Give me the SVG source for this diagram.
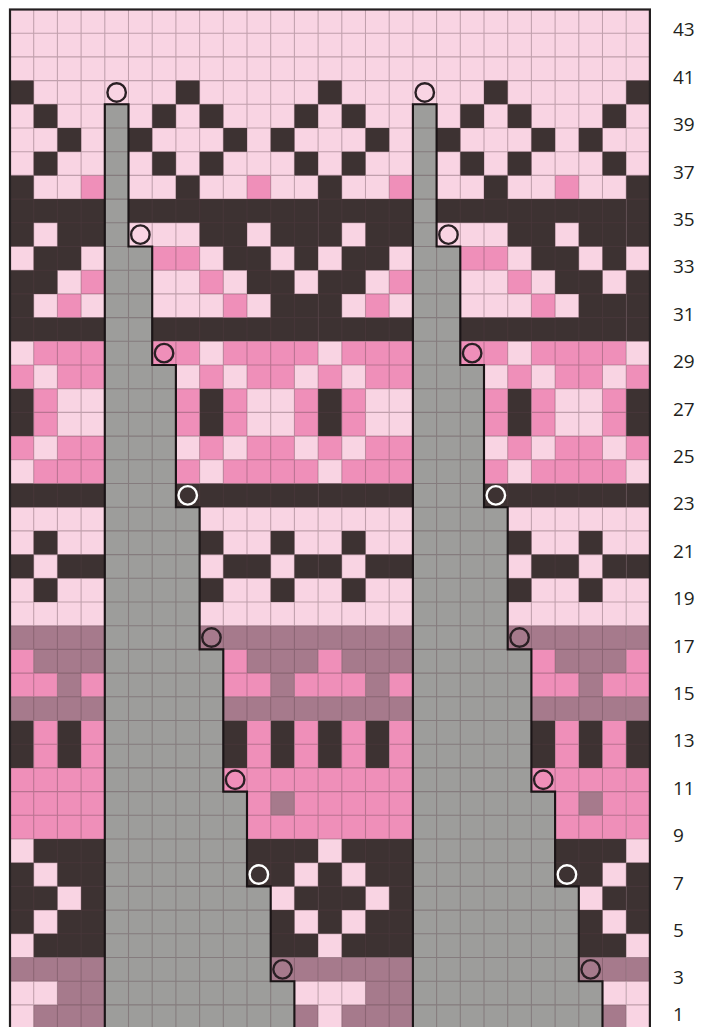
<svg xmlns="http://www.w3.org/2000/svg" xmlns:xlink="http://www.w3.org/1999/xlink" width="701" height="1027" viewBox="0 0 701 1027">
<style>
.L{fill:#f9d4e3}
.M{fill:#ef8fb9}
.D{fill:#3d3232}
.V{fill:#a67a8c}
.G{fill:#9d9d9b}
.grid{fill:none;stroke:#5a4048;stroke-opacity:0.35;stroke-width:0.045}
.outline{fill:none;stroke:#1a1416;stroke-width:0.09;stroke-linejoin:miter}
.c{fill:none;stroke:#2a2024;stroke-width:0.1}
.cw{fill:none;stroke:#ffffff;stroke-width:0.1}
.lbl{font-family:"Open Sans","Liberation Sans",sans-serif;font-size:19px;fill:#231f20}
</style>
<defs>
<clipPath id="gridclip"><rect x="10" y="9.5" width="639.9" height="1019.1"/></clipPath>
<g id="rep" transform="translate(10 9.5) scale(23.7)">
<rect class="L" x="0" y="0" width="13" height="43"/>
<path class="D" d="M0 3h1v1h-1z M7 3h1v1h-1z
M1 4h1v1h-1z M6 4h1v1h-1z M8 4h1v1h-1z M12 4h1v1h-1z
M2 5h1v1h-1z M5 5h1v1h-1z M9 5h1v1h-1z M11 5h1v1h-1z
M1 6h1v1h-1z M6 6h1v1h-1z M8 6h1v1h-1z M12 6h1v1h-1z
M0 7h1v1h-1z M7 7h1v1h-1z
M0 8h13v1h-13z
M0 9h1v1h-1z M2 9h2v1h-2z M8 9h2v1h-2z M11 9h2v1h-2z
M1 10h2v1h-2z M9 10h2v1h-2z M12 10h1v1h-1z
M0 11h2v1h-2z M10 11h2v1h-2z
M0 12h1v1h-1z M11 12h2v1h-2z
M0 13h13v1h-13z
M0 16h1v2h-1z M8 16h1v2h-1z
M0 20h13v1h-13z
M1 22h1v1h-1z M8 22h1v1h-1z M11 22h1v1h-1z
M0 23h1v1h-1z M2 23h2v1h-2z M9 23h2v1h-2z M12 23h1v1h-1z
M1 24h1v1h-1z M8 24h1v1h-1z M11 24h1v1h-1z
M0 30h1v2h-1z M2 30h1v2h-1z M9 30h1v2h-1z M11 30h1v2h-1z
M1 35h3v1h-3z M10 35h3v1h-3z
M0 36h1v1h-1z M2 36h2v1h-2z M10 36h2v1h-2z
M0 37h2v1h-2z M3 37h1v1h-1z M12 37h1v1h-1z
M0 38h1v1h-1z M2 38h2v1h-2z M11 38h1v1h-1z
M1 39h3v1h-3z M11 39h2v1h-2z"/>
<path class="M" d="M3 7h1v1h-1z M10 7h1v1h-1z
M6 10h2v1h-2z
M3 11h1v1h-1z M8 11h1v1h-1z
M2 12h1v1h-1z M9 12h1v1h-1z
M1 14h7v1h-7z M9 14h4v1h-4z
M0 15h1v1h-1z M2 15h2v1h-2z M8 15h1v1h-1z M10 15h2v1h-2z
M1 16h1v2h-1z M7 16h1v2h-1z M9 16h1v2h-1z M12 16h1v2h-1z
M0 18h1v1h-1z M2 18h2v1h-2z M8 18h1v1h-1z M10 18h2v1h-2z
M1 19h7v1h-7z M9 19h4v1h-4z
M0 27h1v1h-1z M9 27h1v1h-1z
M0 28h2v1h-2z M3 28h1v1h-1z M9 28h2v1h-2z M12 28h1v1h-1z
M1 30h1v2h-1z M3 30h1v2h-1z M10 30h1v2h-1z M12 30h1v2h-1z
M0 32h13v1h-13z
M0 33h11v1h-11z M12 33h1v1h-1z
M0 34h13v1h-13z"/>
<path class="V" d="M0 26h13v1h-13z
M1 27h3v1h-3z M10 27h3v1h-3z
M2 28h1v1h-1z M11 28h1v1h-1z
M0 29h13v1h-13z
M11 33h1v1h-1z
M0 40h13v1h-13z
M2 41h2v1h-2z
M1 42h3v1h-3z M12 42h1v1h-1z"/>
</g>
<polygon id="tree" points="4,4 5,4 5,10 6,10 6,15 7,15 7,21 8,21 8,27 9,27 9,33 10,33 10,37 11,37 11,41 12,41 12,43 4,43"/>
</defs>
<g id="chart" clip-path="url(#gridclip)">
<g id="pattern">
<use xlink:href="#rep" href="#rep" x="0"/>
<use xlink:href="#rep" href="#rep" x="308.1"/>
<use xlink:href="#rep" href="#rep" x="616.2"/>
</g>
<g id="units" transform="translate(10 9.5) scale(23.7)">
<g id="no-stitch">
<use xlink:href="#tree" href="#tree" class="G"/>
<use xlink:href="#tree" href="#tree" class="G" x="13"/>
</g>
<path id="gridlines" class="grid" d="M1 0V43M2 0V43M3 0V43M4 0V43M5 0V43M6 0V43M7 0V43M8 0V43M9 0V43M10 0V43M11 0V43M12 0V43M13 0V43M14 0V43M15 0V43M16 0V43M17 0V43M18 0V43M19 0V43M20 0V43M21 0V43M22 0V43M23 0V43M24 0V43M25 0V43M26 0V43
M0 1H27M0 2H27M0 3H27M0 4H27M0 5H27M0 6H27M0 7H27M0 8H27M0 9H27M0 10H27M0 11H27M0 12H27M0 13H27M0 14H27M0 15H27M0 16H27M0 17H27M0 18H27M0 19H27M0 20H27M0 21H27M0 22H27M0 23H27M0 24H27M0 25H27M0 26H27M0 27H27M0 28H27M0 29H27M0 30H27M0 31H27M0 32H27M0 33H27M0 34H27M0 35H27M0 36H27M0 37H27M0 38H27M0 39H27M0 40H27M0 41H27M0 42H27"/>
<g id="no-stitch-outline">
<use xlink:href="#tree" href="#tree" class="outline"/>
<use xlink:href="#tree" href="#tree" class="outline" x="13"/>
</g>
<g id="markers">
<circle class="c" cx="4.5" cy="3.5" r="0.39"/>
<circle class="c" cx="5.5" cy="9.5" r="0.39"/>
<circle class="c" cx="6.5" cy="14.5" r="0.39"/>
<circle class="cw" cx="7.5" cy="20.5" r="0.39"/>
<circle class="c" cx="8.5" cy="26.5" r="0.39"/>
<circle class="c" cx="9.5" cy="32.5" r="0.39"/>
<circle class="cw" cx="10.5" cy="36.5" r="0.39"/>
<circle class="c" cx="11.5" cy="40.5" r="0.39"/>
<circle class="c" cx="17.5" cy="3.5" r="0.39"/>
<circle class="c" cx="18.5" cy="9.5" r="0.39"/>
<circle class="c" cx="19.5" cy="14.5" r="0.39"/>
<circle class="cw" cx="20.5" cy="20.5" r="0.39"/>
<circle class="c" cx="21.5" cy="26.5" r="0.39"/>
<circle class="c" cx="22.5" cy="32.5" r="0.39"/>
<circle class="cw" cx="23.5" cy="36.5" r="0.39"/>
<circle class="c" cx="24.5" cy="40.5" r="0.39"/>
</g>
</g>
</g>
<rect id="border" x="10" y="9.5" width="639.9" height="1019.1" fill="none" stroke="#231f20" stroke-width="2.2"/>
<g id="row-labels" class="lbl">
<text x="673" y="36.4">43</text>
<text x="673" y="83.8">41</text>
<text x="673" y="131.2">39</text>
<text x="673" y="178.6">37</text>
<text x="673" y="226">35</text>
<text x="673" y="273.4">33</text>
<text x="673" y="320.8">31</text>
<text x="673" y="368.2">29</text>
<text x="673" y="415.6">27</text>
<text x="673" y="463">25</text>
<text x="673" y="510.4">23</text>
<text x="673" y="557.8">21</text>
<text x="673" y="605.2">19</text>
<text x="673" y="652.6">17</text>
<text x="673" y="700">15</text>
<text x="673" y="747.4">13</text>
<text x="673" y="794.8">11</text>
<text x="673" y="842.2">9</text>
<text x="673" y="889.6">7</text>
<text x="673" y="937">5</text>
<text x="673" y="984.4">3</text>
<text x="673" y="1020.5">1</text>
</g>
</svg>
